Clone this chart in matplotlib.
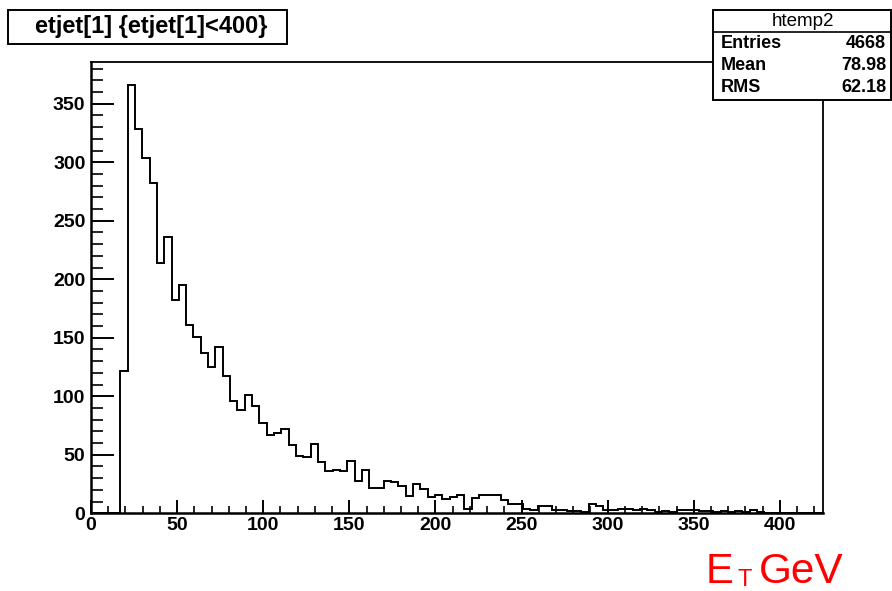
import numpy as np
import matplotlib
matplotlib.use("Agg")
import matplotlib.pyplot as plt
from matplotlib.patches import Rectangle
from matplotlib.ticker import MultipleLocator

# ---- data ----
bin_low = 0.0
bin_high = 425.0
n_bins = 100
counts = [
    0, 0, 0, 0, 122, 366, 328, 304, 282, 214,
    236, 182, 195, 161, 151, 137, 125, 142, 117, 96,
    88, 101, 92, 77, 67, 69, 72, 58, 49, 48,
    59, 44, 36, 37, 36, 45, 28, 37, 22, 22,
    28, 27, 23, 15, 25, 21, 14, 16, 12, 14,
    16, 4, 13, 16, 16, 16, 11, 8, 8, 4,
    3, 6, 6, 3, 3, 2, 2, 1, 8, 6,
    3, 3, 4, 4, 3, 4, 3, 1, 2, 1,
    3, 3, 3, 2, 2, 1, 2, 1, 2, 1,
    3, 1, 0, 0, 0, 0, 0, 0, 0, 0,
]
title_text = "etjet[1] {etjet[1]<400}"
stats_name = "htemp2"
stats_labels = ["Entries", "Mean", "RMS"]
stats_values = ["4668", "78.98", "62.18"]
x_ticks = [0, 50, 100, 150, 200, 250, 300, 350, 400]
y_ticks = [0, 50, 100, 150, 200, 250, 300, 350]

W, H = 892, 591
fig = plt.figure(figsize=(W / 100, H / 100), dpi=100)
fig.patch.set_facecolor("white")

def fx(px):
    return px / W

def fy(py):
    return 1 - py / H

ax_l, ax_r, ax_t, ax_b = 91, 823, 62.3, 513.3
ax = fig.add_axes([fx(ax_l), fy(ax_b), fx(ax_r - ax_l), (ax_b - ax_t) / H])

edges = np.linspace(bin_low, bin_high, n_bins + 1)
ax.stairs(counts, edges, color="black", linewidth=1.4, baseline=None)

ax.set_xlim(bin_low, bin_high)
ax.set_ylim(0, max(counts) * 1.053)

font = "Liberation Sans"
ax.set_xticks(x_ticks)
ax.set_yticks(y_ticks)
ax.set_xticklabels([str(v) for v in x_ticks], fontfamily=font, fontweight="bold", fontsize=14)
ax.set_yticklabels([str(v) for v in y_ticks], fontfamily=font, fontweight="bold", fontsize=14)
ax.xaxis.set_minor_locator(MultipleLocator(10))
ax.yaxis.set_minor_locator(MultipleLocator(10))
ax.tick_params(axis="x", which="major", direction="in", length=9.7, width=1.4, pad=2.5)
ax.tick_params(axis="x", which="minor", direction="in", length=4.9, width=1.2)
ax.tick_params(axis="y", which="major", direction="in", length=16.5, width=1.4, pad=4)
ax.tick_params(axis="y", which="minor", direction="in", length=8.3, width=1.2)
for s in ["left", "bottom"]:
    ax.spines[s].set_linewidth(1.8)
for s in ["top", "right"]:
    ax.spines[s].set_linewidth(1.3)

# title box
tb = Rectangle((fx(7.5), fy(43.5)), fx(287 - 7.5), (43.5 - 10) / H,
               transform=fig.transFigure, facecolor="white", edgecolor="black",
               linewidth=1.4, zorder=5)
fig.add_artist(tb)
fig.text(fx(151), fy(27), title_text, ha="center", va="center",
         fontfamily=font, fontweight="bold", fontsize=17, zorder=6)

# stats box
sb_l, sb_r, sb_t, sb_b = 713, 891, 10, 100
sb = Rectangle((fx(sb_l), fy(sb_b)), fx(sb_r - sb_l), (sb_b - sb_t) / H,
               transform=fig.transFigure, facecolor="white", edgecolor="black",
               linewidth=1.4, zorder=5)
fig.add_artist(sb)
fig.add_artist(plt.Line2D([fx(sb_l), fx(sb_r)], [fy(32), fy(32)],
                          transform=fig.transFigure, color="black", linewidth=1.2, zorder=6))
fig.text(fx(803), fy(21), stats_name, ha="center", va="center",
         fontfamily=font, fontsize=13.5, zorder=6)
for i, (lab, val) in enumerate(zip(stats_labels, stats_values)):
    yy = 43 + 22 * i
    fig.text(fx(721), fy(yy), lab, ha="left", va="center",
             fontfamily=font, fontweight="bold", fontsize=13, zorder=6)
    fig.text(fx(886), fy(yy), val, ha="right", va="center",
             fontfamily=font, fontweight="bold", fontsize=13, zorder=6)

# axis label E_T GeV
red = "#ff0000"
fig.text(fx(706), fy(583), "E", ha="left", va="baseline", color=red,
         fontfamily=font, fontsize=30)
fig.text(fx(738), fy(586), "T", ha="left", va="baseline", color=red,
         fontfamily=font, fontsize=17)
fig.text(fx(759), fy(583), "GeV", ha="left", va="baseline", color=red,
         fontfamily=font, fontsize=30.5)

fig.savefig("out.png", dpi=100)
